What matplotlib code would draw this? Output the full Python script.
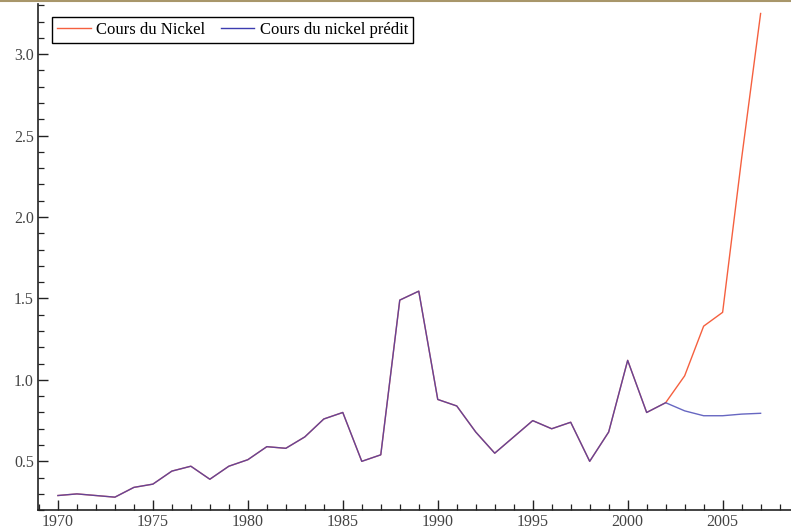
import matplotlib
matplotlib.use("Agg")
import matplotlib.pyplot as plt
from matplotlib.ticker import MultipleLocator, FormatStrFormatter
from matplotlib.lines import Line2D

# Annual nickel price, actual vs predicted
years = list(range(1970, 2008))
actual = [0.29, 0.30, 0.29, 0.28, 0.34, 0.36, 0.44, 0.47, 0.39, 0.47,
          0.51, 0.59, 0.58, 0.65, 0.76, 0.80, 0.50, 0.54, 1.49, 1.545,
          0.88, 0.84, 0.68, 0.55, 0.65, 0.75, 0.70, 0.74, 0.50, 0.68,
          1.12, 0.80, 0.86, 1.025, 1.33, 1.415, 2.36, 3.25]
predicted = actual[:33] + [0.81, 0.78, 0.78, 0.79, 0.795]

RED = '#f5603f'
BLUE = '#3c3cb0'

plt.rcParams['font.family'] = ['Liberation Serif', 'DejaVu Serif']

fig = plt.figure(figsize=(7.91, 5.32), dpi=100)
ax = fig.add_axes([0.048, 0.041, 0.952, 0.952])

ax.plot(years, actual, color=RED, lw=1.0, label='Cours du Nickel')
ax.plot(years, predicted, color=BLUE, lw=1.0, alpha=0.78,
        label='Cours du nickel prédit')

ax.set_xlim(1968.95, 2008.6)
ax.set_ylim(0.2, 3.31)

ax.xaxis.set_major_locator(MultipleLocator(5))
ax.xaxis.set_minor_locator(MultipleLocator(1))
ax.yaxis.set_major_locator(MultipleLocator(0.5))
ax.yaxis.set_minor_locator(MultipleLocator(0.1))
ax.yaxis.set_major_formatter(FormatStrFormatter('%.1f'))

for s in ['top', 'right']:
    ax.spines[s].set_visible(False)
for s in ['left', 'bottom']:
    ax.spines[s].set_linewidth(1.2)
    ax.spines[s].set_color('#222222')

ax.tick_params(which='major', direction='in', length=7, width=1.0,
               color='#222222', labelsize=11.5, labelcolor='#444444', pad=3)
ax.tick_params(which='minor', direction='in', length=4, width=0.9,
               color='#222222')

handles = [Line2D([], [], color=RED, lw=1.0),
           Line2D([], [], color=BLUE, lw=1.0)]
leg = ax.legend(handles, ['Cours du Nickel', 'Cours du nickel prédit'],
                loc='upper left', bbox_to_anchor=(0.019, 0.974), ncol=2,
                fontsize=12, frameon=True, fancybox=False, framealpha=1,
                handlelength=2.0, handletextpad=0.35, columnspacing=0.9,
                borderpad=0.3, borderaxespad=0)
leg.get_frame().set_edgecolor('black')
leg.get_frame().set_linewidth(1.0)

# thin tan rule along the top edge
fig.add_artist(Line2D([0, 1], [0.999, 0.999], transform=fig.transFigure,
                      color='#a8966a', lw=1.5))

fig.savefig('out.png', dpi=100)
